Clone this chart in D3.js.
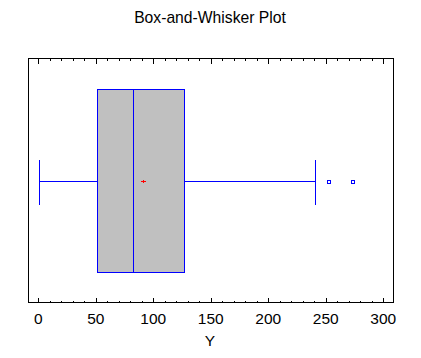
<!DOCTYPE html>
<html><head><meta charset="utf-8">
<script src="https://cdn.jsdelivr.net/npm/d3@7"></script>
<style>body{margin:0;background:#fff}svg{display:block}text{font-family:"Liberation Sans",Arial,sans-serif;fill:#000}</style>
</head><body>
<svg id="c" width="421" height="358" shape-rendering="crispEdges"></svg>
<script>
const title = "Box-and-Whisker Plot";
const axisLabel = "Y";
const majorTicks = [0, 50, 100, 150, 200, 250, 300];
const minorTicks = d3.range(0, 310, 10);
const whiskerLow = [0.3];
const q1 = [50.7];
const median = [82.6];
const q3 = [126.9];
const whiskerHigh = [240.9];
const mean = [91.3];
const outliers = [251.7, 272.5];

const svg = d3.select("#c");
const frame = {l: 28.5, r: 393.5, t: 58.5, b: 302.5};
const x = d3.scaleLinear().domain([0, 300]).range([38.3, 383.3]);
const y = d3.scaleLinear().domain([0, 1]).range([frame.b, frame.t]);
const px = v => Math.round(x(v)) + 0.5;
const py = v => Math.round(y(v)) + 0.5;
const boxTop = py(0.875), boxBot = py(0.125), cy = py(0.497);
const capTop = py(0.59), capBot = py(0.405);

svg.append("text").attr("x", 210).attr("y", 23).attr("text-anchor", "middle")
  .style("font-size", "15.7px").text(title);

svg.append("rect").attr("x", frame.l).attr("y", frame.t)
  .attr("width", frame.r - frame.l).attr("height", frame.b - frame.t)
  .attr("fill", "none").attr("stroke", "#000").attr("stroke-width", 1);

const tk = svg.append("g").attr("stroke", "#000").attr("stroke-width", 1);
minorTicks.forEach(v => {
  const len = majorTicks.includes(v) ? 5 : 2;
  tk.append("line").attr("x1", px(v)).attr("x2", px(v)).attr("y1", frame.b).attr("y2", frame.b - len);
  tk.append("line").attr("x1", px(v)).attr("x2", px(v)).attr("y1", frame.t).attr("y2", frame.t + len);
});
svg.append("g").selectAll("text").data(majorTicks).join("text")
  .attr("x", d => x(d)).attr("y", 324).attr("text-anchor", "middle")
  .style("font-size", "15.5px").text(d => d);
svg.append("text").attr("x", 210).attr("y", 346).attr("text-anchor", "middle")
  .style("font-size", "15.5px").text(axisLabel);

const blue = "#0000ff";
const g = svg.append("g").attr("stroke", blue).attr("stroke-width", 1);
g.append("line").attr("x1", px(whiskerLow[0])).attr("x2", px(q1[0])).attr("y1", cy).attr("y2", cy);
g.append("line").attr("x1", px(q3[0])).attr("x2", px(whiskerHigh[0])).attr("y1", cy).attr("y2", cy);
[whiskerLow[0], whiskerHigh[0]].forEach(v => {
  g.append("line").attr("x1", px(v)).attr("x2", px(v)).attr("y1", capTop).attr("y2", capBot);
});
g.append("rect").attr("x", px(q1[0])).attr("y", boxTop)
  .attr("width", px(q3[0]) - px(q1[0])).attr("height", boxBot - boxTop)
  .attr("fill", "#c0c0c0");
g.append("line").attr("x1", px(median[0])).attr("x2", px(median[0])).attr("y1", boxTop).attr("y2", boxBot);
const mx = px(mean[0]);
svg.append("g").attr("stroke", "#ff0000").attr("stroke-width", 1)
  .call(s => {
    s.append("line").attr("x1", mx - 2.5).attr("x2", mx + 2.5).attr("y1", cy).attr("y2", cy);
    s.append("line").attr("x1", mx).attr("x2", mx).attr("y1", cy - 1.5).attr("y2", cy + 1.5);
  });
g.selectAll("rect.o").data(outliers).join("rect").attr("class", "o")
  .attr("x", d => px(d) - 1.5).attr("y", cy - 1.5).attr("width", 3).attr("height", 3)
  .attr("fill", "#fff");
</script>
</body></html>
